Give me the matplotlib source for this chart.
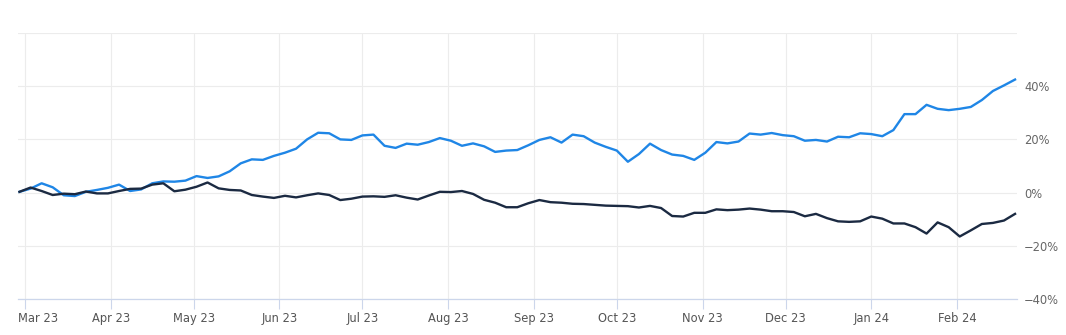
import matplotlib
matplotlib.use("Agg")
import matplotlib.pyplot as plt
import matplotlib.dates as mdates
import matplotlib.transforms as mtransforms
import numpy as np
import pandas as pd

# sampled every 4 days, Feb 27 2023 -> Feb 22 2024
dates = pd.date_range("2023-02-27", periods=91, freq="4D")

fund = [0.3, 1.5, 3.5, 2.0, -1.0, -1.3, 0.3, 1.0, 1.8, 3.0,
        0.6, 1.2, 3.5, 4.2, 4.1, 4.5, 6.2, 5.5, 6.1, 8.0,
        11.0, 12.5, 12.3, 13.8, 15.0, 16.5, 20.0, 22.5, 22.3, 20.0,
        19.8, 21.5, 21.8, 17.6, 16.8, 18.4, 18.0, 19.0, 20.5, 19.5,
        17.6, 18.5, 17.4, 15.3, 15.8, 16.0, 17.8, 19.8, 20.8, 18.8,
        21.8, 21.2, 18.8, 17.2, 15.8, 11.6, 14.5, 18.4, 16.0, 14.3,
        13.8, 12.3, 15.0, 19.0, 18.5, 19.2, 22.2, 21.8, 22.4, 21.6,
        21.2, 19.5, 19.8, 19.2, 21.0, 20.8, 22.3, 22.0, 21.2, 23.5,
        29.5, 29.5, 33.0, 31.5, 31.0, 31.5, 32.2, 34.8, 38.2, 40.3,
        42.5]

bench = [0.3, 1.9, 0.6, -0.9, -0.4, -0.6, 0.4, -0.3, -0.3, 0.6,
         1.4, 1.5, 3.0, 3.5, 0.5, 1.1, 2.2, 3.8, 1.6, 1.0,
         0.8, -0.9, -1.5, -2.0, -1.2, -1.8, -1.0, -0.3, -0.9, -2.8,
         -2.3, -1.5, -1.4, -1.6, -1.0, -1.9, -2.6, -1.1, 0.3, 0.2,
         0.6, -0.5, -2.7, -3.8, -5.5, -5.5, -4.0, -2.8, -3.6, -3.8,
         -4.2, -4.3, -4.6, -4.9, -5.0, -5.1, -5.6, -5.0, -5.8, -8.8,
         -9.0, -7.6, -7.6, -6.3, -6.6, -6.4, -6.0, -6.4, -7.0, -7.0,
         -7.3, -8.9, -8.0, -9.6, -10.8, -11.0, -10.8, -9.0, -9.8, -11.6,
         -11.6, -13.0, -15.4, -11.2, -13.0, -16.5, -14.2, -11.8, -11.4, -10.5,
         -8.0]

yticks = [-40, -20, 0, 20, 40, 60]
ylabels = ["\u221240%", "\u221220%", "0%", "20%", "40%", ""]
month_ticks = pd.date_range("2023-03-01", "2024-02-01", freq="MS")

W, H = 1066, 335
fig = plt.figure(figsize=(W / 100, H / 100), dpi=100)
ax = fig.add_axes([18 / W, (H - 299) / H, (1017 - 18) / W, (299 - 33) / H])

ax.plot(dates, fund, color="#1f86e6", lw=1.7, solid_joinstyle="round")
ax.plot(dates, bench, color="#1b2a42", lw=1.7, solid_joinstyle="round")

ax.set_xlim(pd.Timestamp("2023-02-26 11:00"), pd.Timestamp("2024-02-22 17:00"))
ax.set_ylim(-40, 60)

ax.set_xticks(month_ticks)
ax.xaxis.set_major_formatter(mdates.DateFormatter("%b %y"))
ax.set_yticks(yticks)
ax.set_yticklabels(ylabels)

ax.yaxis.tick_right()
ax.tick_params(axis="y", length=0, pad=5, labelsize=8.3, labelcolor="#666666")
ax.tick_params(axis="x", length=7.5, width=0.8, color="#ccd6eb", pad=2,
               labelsize=8.3, labelcolor="#555555")

ax.grid(True, color="#ececec", lw=0.8)
ax.set_axisbelow(True)
for s in ["top", "left", "right"]:
    ax.spines[s].set_visible(False)
ax.spines["bottom"].set_color("#ccd6eb")
ax.spines["bottom"].set_linewidth(0.9)

# first label is kept inside the plot area
lbl = ax.get_xticklabels()[0]
lbl.set_horizontalalignment("left")
lbl.set_transform(lbl.get_transform() + mtransforms.ScaledTranslation(-7 / 100, 0, fig.dpi_scale_trans))

fig.savefig("out.png", dpi=100)
